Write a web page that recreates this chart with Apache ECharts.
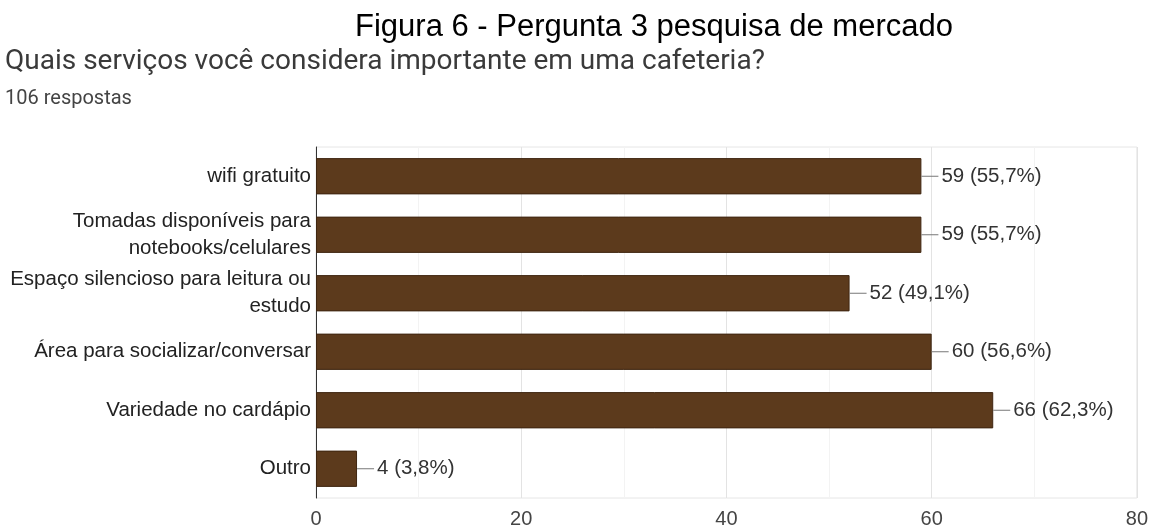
<!DOCTYPE html>
<html>
<head>
<meta charset="utf-8">
<script src="https://cdn.jsdelivr.net/npm/echarts@6/dist/echarts.min.js"></script>
<style>
  html, body { margin: 0; padding: 0; background: #ffffff; }
  #chart { width: 1151px; height: 530px; }
</style>
</head>
<body>
<div id="chart"></div>
<script>
const categories = [
  'wifi gratuito',
  'Tomadas disponíveis para\nnotebooks/celulares',
  'Espaço silencioso para leitura ou\nestudo',
  'Área para socializar/conversar',
  'Variedade no cardápio',
  'Outro'
];
const counts = [59, 59, 52, 60, 66, 4];
const percents = ['55,7%', '55,7%', '49,1%', '56,6%', '62,3%', '3,8%'];
const xTicks = [0, 20, 40, 60, 80];

const chart = echarts.init(document.getElementById('chart'), null, { renderer: 'canvas' });

const option = {
  backgroundColor: '#ffffff',
  animation: false,
  title: [
    {
      text: 'Figura 6 - Pergunta 3 pesquisa de mercado',
      left: 350, top: 7,
      textStyle: { fontFamily: 'Liberation Sans, Arial, sans-serif', fontSize: 31, fontWeight: 'normal', color: '#000000' }
    },
    {
      text: 'Quais serviços você considera importante em uma cafeteria?',
      left: 0, top: 43,
      textStyle: { fontFamily: 'Roboto, Liberation Sans, sans-serif', fontSize: 28, fontWeight: 'normal', color: '#3a3a3a' }
    },
    {
      text: '106 respostas',
      left: 0, top: 84,
      textStyle: { fontFamily: 'Roboto, Liberation Sans, sans-serif', fontSize: 20, fontWeight: 'normal', color: '#444444' }
    }
  ],
  grid: {
    left: 316, right: 13, top: 147, bottom: 32,
    show: true, borderColor: '#e6e6e6', borderWidth: 1, backgroundColor: 'transparent'
  },
  xAxis: {
    type: 'value',
    min: 0, max: 80, interval: 10,
    axisLine: { show: false },
    axisTick: { show: false },
    axisLabel: {
      margin: 11,
      fontFamily: 'Liberation Sans, Arial, sans-serif',
      fontSize: 20,
      color: '#444444',
      formatter: function (v) { return xTicks.indexOf(v) >= 0 ? String(v) : ''; }
    },
    splitLine: { show: true, lineStyle: { color: ['#e3e3e3', '#f3f3f3'], width: 1 } }
  },
  yAxis: {
    type: 'category',
    inverse: true,
    data: categories,
    axisLine: { show: true, lineStyle: { color: '#333333', width: 1 } },
    axisTick: { show: false },
    axisLabel: {
      margin: 5,
      fontFamily: 'Liberation Sans, Arial, sans-serif',
      fontSize: 20.5,
      lineHeight: 27,
      color: '#222222',
      align: 'right'
    }
  },
  series: [
    {
      type: 'bar',
      data: counts,
      barCategoryGap: '38%',
      itemStyle: { color: '#5c3a1c', borderColor: '#3f2611', borderWidth: 1 },
      label: {
        show: true,
        position: 'right',
        distance: 0,
        formatter: function (p) { return '{l|}{t|' + counts[p.dataIndex] + ' (' + percents[p.dataIndex] + ')}'; },
        rich: {
          l: { width: 17, height: 1, backgroundColor: '#777777', verticalAlign: 'middle' },
          t: {
            fontFamily: 'Liberation Sans, Arial, sans-serif',
            fontSize: 20.5,
            color: '#333333',
            padding: [0, 0, 0, 3],
            verticalAlign: 'middle'
          }
        }
      }
    }
  ]
};

chart.setOption(option);
</script>
</body>
</html>
